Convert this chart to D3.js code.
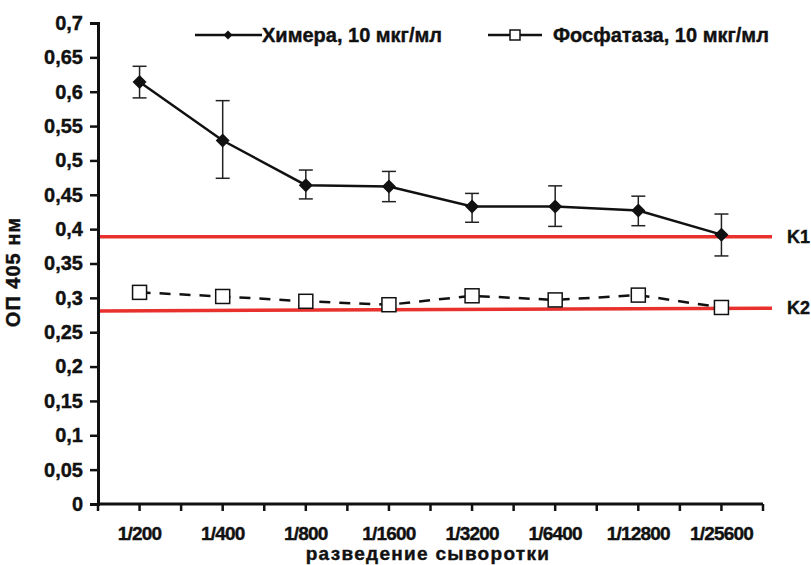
<!DOCTYPE html>
<html>
<head>
<meta charset="utf-8">
<script src="https://cdn.jsdelivr.net/npm/d3@7"></script>
<style>
  body { margin: 0; background: #fff; }
  text { font-family: "Liberation Sans", Arial, sans-serif; font-weight: bold; fill: #111; stroke: #111; stroke-width: 0.4px; }
</style>
</head>
<body>
<div id="chart"></div>
<script>
// dilutions on the x axis
let dilutions = ["1/200", "1/400", "1/800", "1/1600", "1/3200", "1/6400", "1/12800", "1/25600"];

// chimera, 10 ug/ml: mean and error bar ends
let chimera = [0.614, 0.529, 0.464, 0.462, 0.433, 0.433, 0.427, 0.392];
let chimeraHi = [0.637, 0.587, 0.486, 0.484, 0.452, 0.463, 0.448, 0.422];
let chimeraLo = [0.591, 0.474, 0.444, 0.440, 0.410, 0.404, 0.405, 0.361];

// phosphatase, 10 ug/ml
let phosphatase = [0.308, 0.302, 0.295, 0.290, 0.303, 0.297, 0.304, 0.286];

// cut-off lines (start value, end value)
let cutoffs = [
  {name: "K1", v0: 0.389, v1: 0.389},
  {name: "K2", v0: 0.281, v1: 0.285}
];

let yTicks = [0, 0.05, 0.1, 0.15, 0.2, 0.25, 0.3, 0.35, 0.4, 0.45, 0.5, 0.55, 0.6, 0.65, 0.7];

let seriesNames = ["Химера, 10 мкг/мл", "Фосфатаза, 10 мкг/мл"];

let margin = {top: 23, right: 48, bottom: 61, left: 98},
    width = 811 - margin.left - margin.right,
    height = 565 - margin.top - margin.bottom;

let svg = d3.select("#chart")
  .append("svg")
    .attr("width", 811)
    .attr("height", 565)
  .append("g")
    .attr("transform", "translate(" + margin.left + "," + margin.top + ")");

let x = d3.scaleBand()
  .domain(dilutions)
  .range([0, width]);

let y = d3.scaleLinear()
  .domain([0, 0.7])
  .range([height, 0]);

let fmt = function(d) { return String(d).replace(".", ","); };

// red cut-off lines, drawn first so the data sits on top
let xEnd = width + 9;
svg.selectAll(".cut")
  .data(cutoffs)
  .enter().append("line")
    .attr("x1", 0)
    .attr("x2", xEnd)
    .attr("y1", function(d) { return y(d.v0); })
    .attr("y2", function(d) { return y(d.v1); })
    .attr("stroke", "#e8302c")
    .attr("stroke-width", 3.5);

svg.selectAll(".cutLabel")
  .data(cutoffs)
  .enter().append("text")
    .attr("x", xEnd + 15)
    .attr("y", function(d) { return y(d.v1); })
    .attr("dy", "0.35em")
    .style("font-size", "18px")
    .text(function(d) { return d.name; });

// Y axis
let yAxis = svg.append("g")
  .call(d3.axisLeft(y).tickValues(yTicks).tickFormat(fmt).tickSize(8).tickPadding(7));
yAxis.selectAll("text").style("font-size", "20px");

// X axis: ticks at band centres and band edges
let halfTicks = [];
dilutions.forEach(function(d) { halfTicks.push(x(d)); halfTicks.push(x(d) + x.bandwidth() / 2); });
halfTicks.push(width);
let xAxis = svg.append("g")
  .attr("transform", "translate(0," + height + ")");
xAxis.append("line")
  .attr("x1", 0).attr("x2", width)
  .attr("stroke", "#111").attr("stroke-width", 3);
xAxis.selectAll(".tick")
  .data(halfTicks)
  .enter().append("line")
    .attr("x1", function(d) { return d; })
    .attr("x2", function(d) { return d; })
    .attr("y1", 0).attr("y2", 7)
    .attr("stroke", "#111").attr("stroke-width", 2.5);
xAxis.selectAll(".lab")
  .data(dilutions)
  .enter().append("text")
    .attr("x", function(d) { return x(d) + x.bandwidth() / 2; })
    .attr("y", 36)
    .attr("text-anchor", "middle")
    .style("font-size", "19px")
    .style("letter-spacing", "-0.8px")
    .text(function(d) { return d; });

yAxis.select(".domain").attr("stroke", "#111").attr("stroke-width", 3);
yAxis.selectAll(".tick line").attr("stroke", "#111").attr("stroke-width", 2.5);

// axis titles
svg.append("text")
  .attr("x", 330)
  .attr("y", height + 56)
  .attr("text-anchor", "middle")
  .style("font-size", "19px")
  .style("letter-spacing", "1.3px")
  .text("разведение сыворотки");

svg.append("text")
  .attr("transform", "translate(-78,249) rotate(-90)")
  .attr("text-anchor", "middle")
  .style("font-size", "20px")
  .style("letter-spacing", "1px")
  .text("ОП 405 нм");

let cx = function(d) { return x(d) + x.bandwidth() / 2; };

// phosphatase dashed line and open squares
let line2 = d3.line()
  .x(function(d, i) { return cx(dilutions[i]); })
  .y(function(d) { return y(d); });
svg.append("path")
  .datum(phosphatase)
  .attr("d", line2)
  .attr("fill", "none")
  .attr("stroke", "#111")
  .attr("stroke-width", 2.5)
  .attr("stroke-dasharray", "11,9");
svg.selectAll(".sq")
  .data(phosphatase)
  .enter().append("rect")
    .attr("x", function(d, i) { return cx(dilutions[i]) - 7; })
    .attr("y", function(d) { return y(d) - 7; })
    .attr("width", 14)
    .attr("height", 14)
    .attr("fill", "#fff")
    .attr("stroke", "#111")
    .attr("stroke-width", 1.5);

// chimera error bars
let eb = svg.append("g").attr("stroke", "#222").attr("stroke-width", 1.5);
dilutions.forEach(function(d, i) {
  eb.append("line")
    .attr("x1", cx(d)).attr("x2", cx(d))
    .attr("y1", y(chimeraHi[i])).attr("y2", y(chimeraLo[i]));
  eb.append("line")
    .attr("x1", cx(d) - 7).attr("x2", cx(d) + 7)
    .attr("y1", y(chimeraHi[i])).attr("y2", y(chimeraHi[i]));
  eb.append("line")
    .attr("x1", cx(d) - 7).attr("x2", cx(d) + 7)
    .attr("y1", y(chimeraLo[i])).attr("y2", y(chimeraLo[i]));
});

let line1 = d3.line()
  .x(function(d, i) { return cx(dilutions[i]); })
  .y(function(d) { return y(d); });
svg.append("path")
  .datum(chimera)
  .attr("d", line1)
  .attr("fill", "none")
  .attr("stroke", "#111")
  .attr("stroke-width", 2.5);

let diamond = d3.symbol().type(d3.symbolSquare).size(98);
svg.selectAll(".dia")
  .data(chimera)
  .enter().append("path")
    .attr("d", diamond)
    .attr("transform", function(d, i) { return "translate(" + cx(dilutions[i]) + "," + y(d) + ") rotate(45)"; })
    .attr("fill", "#111");

// legend
let leg = svg.append("g").attr("transform", "translate(0,12)");
leg.append("line")
  .attr("x1", 97).attr("x2", 164).attr("y1", 0).attr("y2", 0)
  .attr("stroke", "#111").attr("stroke-width", 2.5);
leg.append("path")
  .attr("d", d3.symbol().type(d3.symbolSquare).size(40))
  .attr("transform", "translate(130,0) rotate(45)")
  .attr("fill", "#111");
leg.append("text")
  .attr("x", 164).attr("y", 0).attr("dy", "0.35em")
  .style("font-size", "20px")
  .text(seriesNames[0]);

leg.append("line")
  .attr("x1", 390).attr("x2", 444).attr("y1", 0).attr("y2", 0)
  .attr("stroke", "#111").attr("stroke-width", 2.5);
leg.append("rect")
  .attr("x", 412).attr("y", -5).attr("width", 10).attr("height", 10)
  .attr("fill", "#fff").attr("stroke", "#111").attr("stroke-width", 1.5);
leg.append("text")
  .attr("x", 455).attr("y", 0).attr("dy", "0.35em")
  .style("font-size", "20px")
  .text(seriesNames[1]);
</script>
</body>
</html>
